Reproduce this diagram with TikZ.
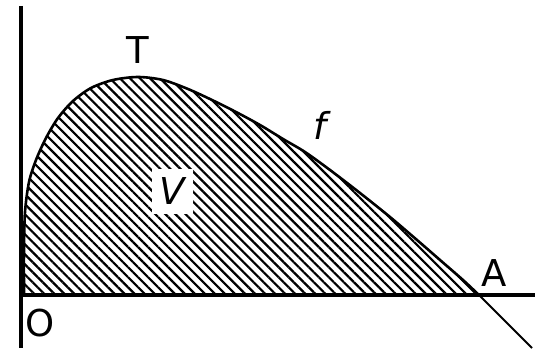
\documentclass[tikz,border=0pt]{standalone}
\usepackage{fontspec}
\setmainfont{DejaVu Sans}
\usetikzlibrary{patterns.meta}
\tikzset{
  axisline/.style={line width=4.5pt},
  curveline/.style={line width=2.6pt, line join=round},
  tanline/.style={line width=2pt},
  hatch/.style={pattern={Lines[angle=-45,distance=7.1pt,line width=2.2pt]}},
  lbl/.style={font=\fontsize{37}{40}\selectfont, inner sep=0pt},
}
\begin{document}
\begin{tikzpicture}[x=1pt,y=-1pt]
\useasboundingbox (0,0) rectangle (536,350);
\coordinate (ytop) at (21,6);
\coordinate (ybot) at (21,348);
\coordinate (xleft) at (19,295);
\coordinate (xright) at (535,295);
\coordinate (Apt) at (480,296);
\coordinate (tanend) at (532,348);
% hatched region
\fill[hatch] plot[smooth] coordinates {(24,295) (24,250) (25,212) (29,182) (36,160) (46,138) (58,118) (73,101) (91,88) (113,80) (138,77) (163,80) (188,89) (212,100) (236,112) (260,125) (283,139) (305,152) (330,170) (360,193) (390,217) (417,240) (440,260) (463,280) (480,296)} -- cycle;
% curve
\draw[curveline] plot[smooth] coordinates {(24,295) (24,250) (25,212) (29,182) (36,160) (46,138) (58,118) (73,101) (91,88) (113,80) (138,77) (163,80) (188,89) (212,100) (236,112) (260,125) (283,139) (305,152) (330,170) (360,193) (390,217) (417,240) (440,260) (463,280) (480,296)};
% tangent continuation
\draw[tanline] (Apt) -- (tanend);
% axes
\draw[axisline] (ytop) -- (ybot);
\draw[axisline] (xleft) -- (xright);
% labels
\node[lbl] (T) at (138,50.5) {T};
\node[lbl] (f) at (320,125) {\itshape f};
\node[lbl, fill=white, minimum width=41pt, minimum height=45pt] (V) at (172.5,191.5) {\itshape V};
\node[lbl] (A) at (494,273.5) {A};
\node[lbl] (O) at (40,323) {O};
\end{tikzpicture}
\end{document}
